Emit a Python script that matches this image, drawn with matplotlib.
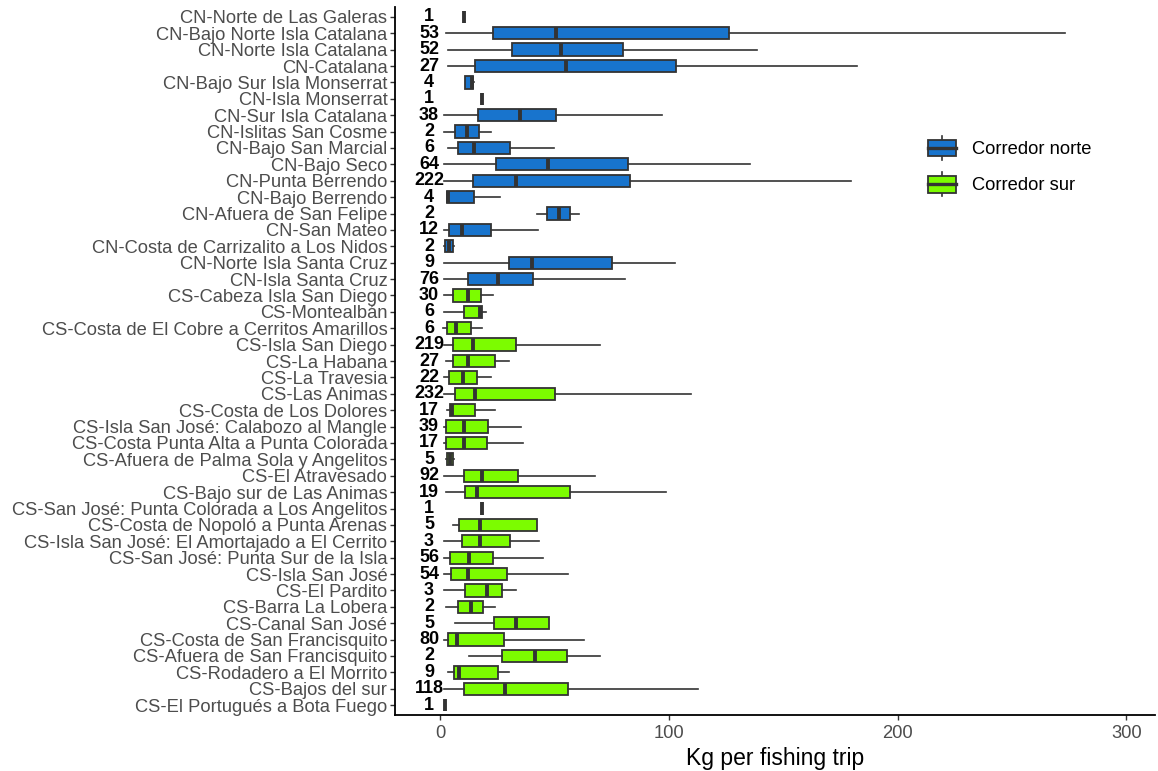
import matplotlib
matplotlib.use("Agg")
import matplotlib.pyplot as plt
import numpy as np
from matplotlib.legend_handler import HandlerBase
from matplotlib.patches import Rectangle, Patch
from matplotlib.lines import Line2D

plt.rcParams['font.family'] = ['Liberation Sans', 'DejaVu Sans']

categories = [
    "CN-Norte de Las Galeras", "CN-Bajo Norte Isla Catalana", "CN-Norte Isla Catalana",
    "CN-Catalana", "CN-Bajo Sur Isla Monserrat", "CN-Isla Monserrat", "CN-Sur Isla Catalana",
    "CN-Islitas San Cosme", "CN-Bajo San Marcial", "CN-Bajo Seco", "CN-Punta Berrendo",
    "CN-Bajo Berrendo", "CN-Afuera de San Felipe", "CN-San Mateo",
    "CN-Costa de Carrizalito a Los Nidos", "CN-Norte Isla Santa Cruz", "CN-Isla Santa Cruz",
    "CS-Cabeza Isla San Diego", "CS-Montealbán", "CS-Costa de El Cobre a Cerritos Amarillos",
    "CS-Isla San Diego", "CS-La Habana", "CS-La Travesia", "CS-Las Animas",
    "CS-Costa de Los Dolores", "CS-Isla San José: Calabozo al Mangle",
    "CS-Costa Punta Alta a Punta Colorada", "CS-Afuera de Palma Sola y Angelitos",
    "CS-El Atravesado", "CS-Bajo sur de Las Animas",
    "CS-San José: Punta Colorada a Los Angelitos", "CS-Costa de Nopoló a Punta Arenas",
    "CS-Isla San José: El Amortajado a El Cerrito", "CS-San José: Punta Sur de la Isla",
    "CS-Isla San José", "CS-El Pardito", "CS-Barra La Lobera", "CS-Canal San José",
    "CS-Costa de San Francisquito", "CS-Afuera de San Francisquito",
    "CS-Rodadero a El Morrito", "CS-Bajos del sur", "CS-El Portugués a Bota Fuego",
]
n_trips = [1, 53, 52, 27, 4, 1, 38, 2, 6, 64, 222, 4, 2, 12, 2, 9, 76,
           30, 6, 6, 219, 27, 22, 232, 17, 39, 17, 5, 92, 19, 1, 5, 3, 56, 54,
           3, 2, 5, 80, 2, 9, 118, 1]
corridor = ["Corredor norte"] * 17 + ["Corredor sur"] * 26

whislo = [10.5, 2.6, 3.6, 3.6, 10.8, 18.5, 1.9, 1.8, 3.6, 1.9, 1.9, 2.9, 42.4, 1.8, 1.9, 1.8, 1.9,
          1.9, 1.8, 1.2, 1.9, 2.6, 1.9, 1.9, 2.9, 1.9, 1.9, 2.6, 1.9, 2.6, 18.5, 5.8, 1.9, 1.9, 1.9,
          1.8, 2.6, 6.7, 1.9, 12.5, 3.6, 1.9, 2.3]
q1 = [10.5, 23.0, 31.3, 15.4, 10.8, 18.5, 16.6, 6.5, 8.0, 24.3, 14.2, 2.9, 46.8, 3.9, 2.2, 30.2, 12.1,
      5.8, 10.5, 3.2, 5.8, 5.8, 3.8, 6.5, 4.4, 2.5, 2.5, 3.2, 10.5, 10.8, 18.5, 8.3, 9.4, 4.4, 4.7,
      10.9, 8.0, 23.4, 3.4, 26.9, 6.2, 10.5, 2.3]
med = [10.5, 50.6, 52.8, 55.2, 13.8, 18.5, 34.9, 11.9, 15.0, 47.2, 33.4, 3.6, 51.9, 9.4, 4.1, 40.3, 25.2,
       12.4, 17.4, 6.8, 14.2, 12.4, 9.9, 15.4, 5.2, 10.5, 10.5, 4.4, 18.3, 16.3, 18.5, 17.4, 17.4, 12.5, 12.4,
       20.4, 13.4, 33.3, 7.5, 41.3, 8.4, 28.3, 2.3]
q3 = [10.5, 126.2, 80.0, 103.2, 14.5, 18.5, 50.6, 17.2, 30.7, 82.1, 83.2, 15.0, 56.7, 22.2, 5.5, 75.2, 40.7,
      18.0, 18.5, 13.7, 33.4, 24.0, 16.0, 50.4, 15.4, 20.9, 20.5, 5.5, 34.0, 57.0, 18.5, 42.3, 30.4, 23.3, 29.1,
      26.9, 18.9, 47.4, 28.0, 55.7, 25.2, 56.0, 2.3]
whishi = [10.5, 273.0, 138.7, 182.4, 14.8, 18.5, 96.8, 22.1, 50.0, 135.6, 179.5, 26.2, 60.8, 42.6, 6.1, 102.8, 81.0,
          23.3, 20.2, 18.2, 69.9, 30.1, 22.1, 109.8, 24.1, 35.2, 36.1, 6.1, 67.9, 98.9, 18.5, 42.3, 43.2, 45.2, 56.1,
          33.1, 24.0, 47.4, 62.9, 69.8, 30.1, 112.8, 2.3]

colors = {"Corredor norte": "#1874CD", "Corredor sur": "#7CFC00"}
edge = "#333333"

fig = plt.figure(figsize=(11.58, 7.71), dpi=100)
ax = fig.add_axes([395 / 1158, 56 / 771, (1155 - 395) / 1158, (715 - 7) / 771])

n = len(categories)
positions = np.arange(n, 0, -1)
stats = []
for i in range(n):
    stats.append(dict(med=med[i], q1=q1[i], q3=q3[i], whislo=whislo[i], whishi=whishi[i], fliers=[]))

bp = ax.bxp(stats, positions=positions, widths=0.75, vert=False, patch_artist=True,
            showcaps=False, showfliers=False,
            boxprops=dict(edgecolor=edge, linewidth=1.3),
            whiskerprops=dict(color=edge, linewidth=1.2),
            medianprops=dict(color=edge, linewidth=2.8, solid_capstyle='butt'))
for patch, c in zip(bp['boxes'], corridor):
    patch.set_facecolor(colors[c])

for i in range(n):
    ax.text(-4.8, positions[i], str(n_trips[i]), ha='center', va='center',
            fontsize=13, fontweight='bold', color='black')

ax.set_xlim(-19.7, 312.5)
ax.set_ylim(0.4, n + 0.6)
ax.set_yticks(positions)
ax.set_yticklabels(categories)
ax.set_xticks([0, 100, 200, 300])
ax.tick_params(axis='both', colors='#333333', length=3.5, width=1.0, labelcolor='#4D4D4D',
               labelsize=13.2)
ax.tick_params(axis='y', pad=2)
ax.tick_params(axis='x', pad=4)
ax.set_xlabel("Kg per fishing trip", fontsize=16.5, color='black', labelpad=3)
for s in ['top', 'right']:
    ax.spines[s].set_visible(False)
for s in ['left', 'bottom']:
    ax.spines[s].set_linewidth(1.3)
    ax.spines[s].set_color('black')


class BoxHandler(HandlerBase):
    def create_artists(self, legend, orig_handle, xdescent, ydescent, width, height, fontsize, trans):
        x0, y0 = -xdescent, -ydescent
        fc = orig_handle.get_facecolor()
        wl = Line2D([x0 + width / 2] * 2, [y0, y0 + height],
                    color=edge, linewidth=1.2, transform=trans)
        r = Rectangle((x0, y0 + 0.15 * height), width, 0.70 * height, facecolor=fc,
                      edgecolor=edge, linewidth=1.3, transform=trans)
        m = Line2D([x0, x0 + width], [y0 + 0.5 * height] * 2, color=edge, linewidth=2.4,
                   transform=trans)
        return [wl, r, m]


handles = [Patch(facecolor=colors["Corredor norte"]), Patch(facecolor=colors["Corredor sur"])]
fig.legend(handles, ["Corredor norte", "Corredor sur"], handler_map={Patch: BoxHandler()},
           loc='upper left', bbox_to_anchor=(928 / 1158, 1 - 136 / 771), frameon=False,
           fontsize=13.2, handlelength=1.53, handleheight=1.64, labelspacing=0.66,
           handletextpad=0.87, borderaxespad=0, borderpad=0)

fig.savefig("out.png", dpi=100)
